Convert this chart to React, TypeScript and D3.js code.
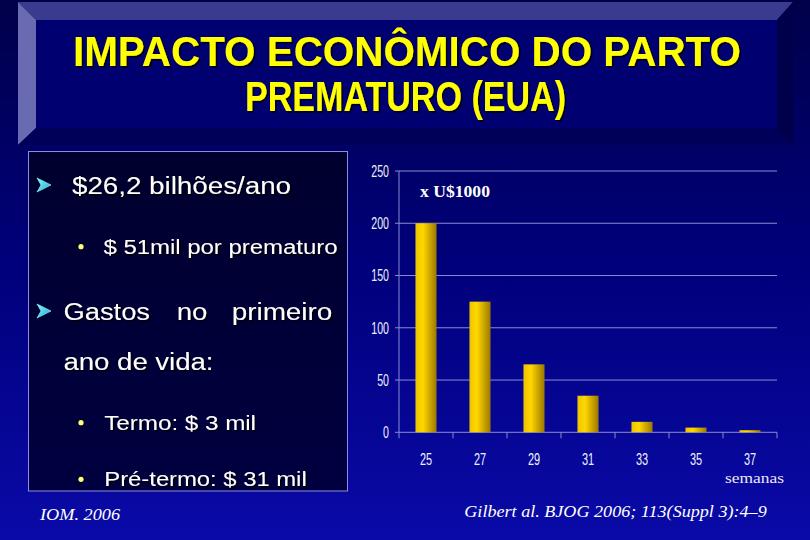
import React from "react";
import * as d3 from "d3";

const weeks = ["25", "27", "29", "31", "33", "35", "37"];
const costs = [200, 125, 65, 35, 10, 4.5, 2];
const yTicks = [0, 50, 100, 150, 200, 250];
const titleLines = ["IMPACTO ECONÔMICO DO PARTO", "PREMATURO (EUA)"];

const W = 810;
const H = 540;

export default function App() {
  const x = d3.scaleBand<string>().domain(weeks).range([399, 777]).padding(0);
  const y = d3.scaleLinear().domain([0, 250]).range([432.3, 171]);
  const barW = x.bandwidth() * 0.39;
  const narrow = "'Liberation Sans Narrow', 'Arial Narrow', 'Liberation Sans', Arial, sans-serif";
  const sans = "'Liberation Sans', Arial, sans-serif";
  const serif = "'Liberation Serif', 'Times New Roman', serif";
  const shadow = "url(#txtShadow)";
  const digitW = 5.9;

  const Arrow = ({ cx, cy }: { cx: number; cy: number }) => (
    <path
      d={`M${cx - 7},${cy - 7} L${cx + 7},${cy} L${cx - 7},${cy + 7} L${cx - 3},${cy} Z`}
      fill="url(#arrowGrad)"
      stroke="#a0ffff"
      strokeWidth={0.6}
    />
  );
  const Dot = ({ cx, cy }: { cx: number; cy: number }) => (
    <circle cx={cx} cy={cy} r={2.6} fill="#ffff70" />
  );

  return (
    <svg width={W} height={H} style={{ position: "absolute", left: 0, top: 0, display: "block" }}>
      <defs>
        <linearGradient id="bg" x1="0" y1="0" x2="0" y2="1">
          <stop offset="0" stopColor="#00004a" />
          <stop offset="0.5" stopColor="#00007c" />
          <stop offset="1" stopColor="#0a0aa8" />
        </linearGradient>
        <linearGradient id="boxGrad" x1="0" y1="0" x2="0" y2="1">
          <stop offset="0" stopColor="#00002e" />
          <stop offset="1" stopColor="#000040" />
        </linearGradient>
        <linearGradient id="barGrad" x1="0" y1="0" x2="1" y2="0">
          <stop offset="0" stopColor="#ecc400" />
          <stop offset="0.35" stopColor="#ffd800" />
          <stop offset="1" stopColor="#9c7800" />
        </linearGradient>
        <linearGradient id="arrowGrad" x1="0" y1="0" x2="1" y2="1">
          <stop offset="0" stopColor="#80ffff" />
          <stop offset="1" stopColor="#20a0d0" />
        </linearGradient>
        <filter id="txtShadow" x="-5%" y="-20%" width="110%" height="140%">
          <feDropShadow dx="1.6" dy="1.6" stdDeviation="0.3" floodColor="#000000" floodOpacity="0.85" />
        </filter>
      </defs>

      <rect x={0} y={0} width={W} height={H} fill="url(#bg)" />

      {/* Title bevel panel */}
      <polygon points="18,2 793,2 777,20 36,20" fill="#3a3a8e" />
      <polygon points="18,2 36,20 36,128 18,145" fill="#6a6ab2" />
      <polygon points="793,2 793,145 777,128 777,20" fill="#00004a" />
      <polygon points="18,145 793,145 777,128 36,128" fill="#000058" />
      <rect x={36} y={20} width={741} height={108} fill="#000070" />
      <text
        x={73}
        y={66}
        fontFamily={narrow}
        fontWeight="bold"
        fontSize={42}
        fill="#ffff00"
        textLength={668}
        lengthAdjust="spacingAndGlyphs"
        filter={shadow}
      >
        {titleLines[0]}
      </text>
      <text
        x={245}
        y={111}
        fontFamily={narrow}
        fontWeight="bold"
        fontSize={42}
        fill="#ffff00"
        textLength={321}
        lengthAdjust="spacingAndGlyphs"
        filter={shadow}
      >
        {titleLines[1]}
      </text>

      {/* Left text box */}
      <rect x={28.5} y={151.5} width={319} height={339.5} fill="url(#boxGrad)" stroke="#8c8ce6" strokeWidth={1} />
      <g fill="#ffffff" fontFamily={sans} filter={shadow}>
        <text x={72} y={194} fontSize={23} textLength={219} lengthAdjust="spacingAndGlyphs">$26,2 bilhões/ano</text>
        <text x={103.5} y={254} fontSize={20} textLength={234} lengthAdjust="spacingAndGlyphs">$ 51mil por prematuro</text>
        <text x={63.5} y={319.5} fontSize={23} textLength={86.5} lengthAdjust="spacingAndGlyphs">Gastos</text>
        <text x={176.7} y={319.5} fontSize={23} textLength={30.6} lengthAdjust="spacingAndGlyphs">no</text>
        <text x={231.7} y={319.5} fontSize={23} textLength={100.6} lengthAdjust="spacingAndGlyphs">primeiro</text>
        <text x={63.5} y={370} fontSize={23} textLength={150} lengthAdjust="spacingAndGlyphs">ano de vida:</text>
        <text x={104.3} y={429.5} fontSize={20} textLength={151.7} lengthAdjust="spacingAndGlyphs">Termo: $ 3 mil</text>
        <text x={104.3} y={486} fontSize={20} textLength={202.4} lengthAdjust="spacingAndGlyphs">Pré-termo: $ 31 mil</text>
      </g>
      <Arrow cx={44} cy={185} />
      <Arrow cx={44} cy={311} />
      <Dot cx={81} cy={246.7} />
      <Dot cx={81} cy={422.7} />
      <Dot cx={81} cy={479.3} />
      <text x={40} y={520} fontFamily={serif} fontStyle="italic" fontSize={16} fill="#ffffff" textLength={80} lengthAdjust="spacingAndGlyphs">
        IOM. 2006
      </text>

      {/* Chart */}
      <g>
        {yTicks.map((t) => (
          <g key={t}>
            <line x1={399} x2={777} y1={y(t)} y2={y(t)} stroke="#8a8ad2" strokeWidth={1} />
            <line x1={395} x2={399} y1={y(t)} y2={y(t)} stroke="#8a8ad2" strokeWidth={1} />
            <text
              x={389}
              y={y(t)}
              dy="0.37em"
              textAnchor="end"
              fontFamily={narrow}
              fontSize={16}
              fill="#f0f0f8"
              textLength={String(t).length * digitW}
              lengthAdjust="spacingAndGlyphs"
            >
              {t}
            </text>
          </g>
        ))}
        <line x1={399} x2={399} y1={y(250)} y2={y(0)} stroke="#8a8ad2" strokeWidth={1} />
        {weeks.map((w) => (
          <line
            key={"tk" + w}
            x1={x(w) as number}
            x2={x(w) as number}
            y1={y(0)}
            y2={y(0) + 6}
            stroke="#8a8ad2"
            strokeWidth={1}
          />
        ))}
        <line x1={777} x2={777} y1={y(0)} y2={y(0) + 6} stroke="#8a8ad2" strokeWidth={1} />
        {weeks.map((w, i) => {
          const cx = (x(w) as number) + x.bandwidth() / 2;
          return (
            <rect
              key={"b" + w}
              x={cx - barW / 2}
              y={y(costs[i])}
              width={barW}
              height={y(0) - y(costs[i])}
              fill="url(#barGrad)"
            />
          );
        })}
        {weeks.map((w) => {
          const cx = (x(w) as number) + x.bandwidth() / 2;
          return (
            <text
              key={"l" + w}
              x={cx}
              y={464.5}
              textAnchor="middle"
              fontFamily={narrow}
              fontSize={17}
              fill="#f0f0f8"
              textLength={w.length * 6.1}
              lengthAdjust="spacingAndGlyphs"
            >
              {w}
            </text>
          );
        })}
        <text x={420} y={196.5} fontFamily={serif} fontSize={16} fontWeight="bold" fill="#ffffff" textLength={70} lengthAdjust="spacingAndGlyphs">
          x U$1000
        </text>
        <text x={725} y={482.5} fontFamily={serif} fontSize={15} fill="#e8e8f0" textLength={59} lengthAdjust="spacingAndGlyphs">
          semanas
        </text>
      </g>

      <text x={464.3} y={517} fontFamily={serif} fontStyle="italic" fontSize={17} fill="#ffffff" textLength={302.4} lengthAdjust="spacingAndGlyphs">
        Gilbert al. BJOG 2006; 113(Suppl 3):4–9
      </text>
    </svg>
  );
}
